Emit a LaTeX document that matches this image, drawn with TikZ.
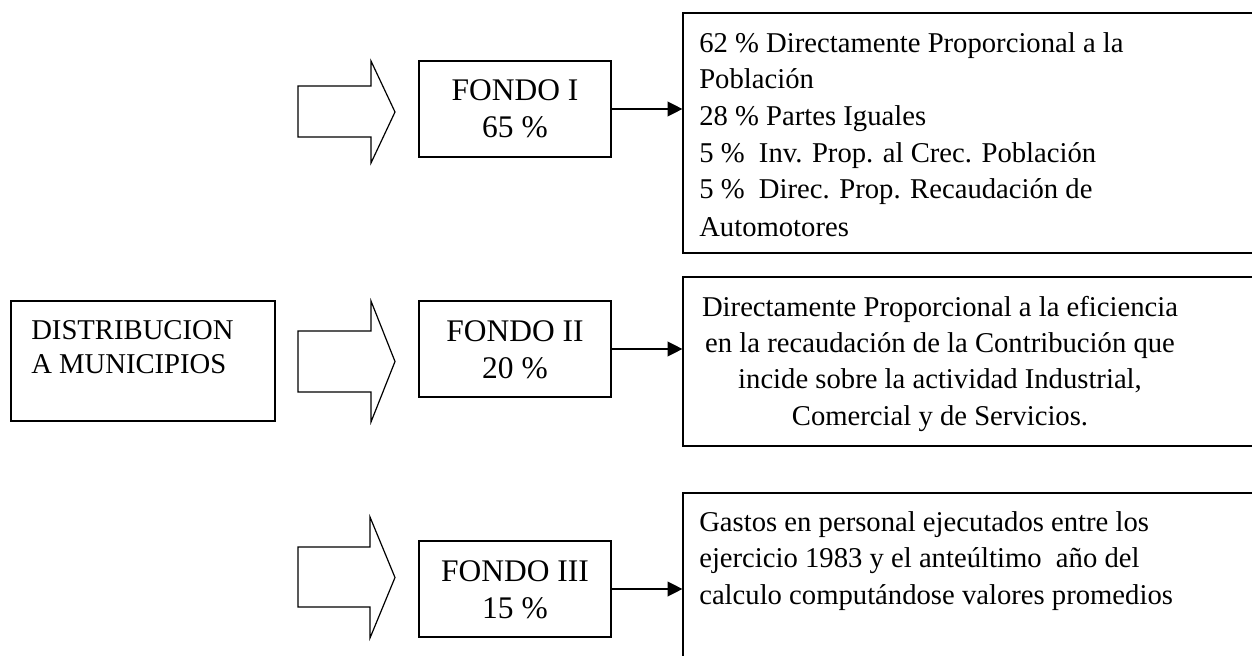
\documentclass[tikz,border=0pt]{standalone}
\usepackage{fontspec}
\setmainfont{Liberation Serif}
\usetikzlibrary{arrows.meta}
\begin{document}
\begin{tikzpicture}[x=0.75pt,y=-0.75pt,
  box/.style={draw,line width=0.9pt,inner sep=0pt},
  blk/.style={draw,line width=0.9pt,line join=miter},
  link/.style={line width=1pt,-{Triangle[length=11pt,width=11pt]}},
  rtxt/.style={inner sep=0pt,font=\fontsize{21.5}{26}\selectfont},
  ftxt/.style={inner sep=0pt,font=\fontsize{23.6}{28}\selectfont}]
\useasboundingbox (0,0) rectangle (1252,656);
\clip (0,0) rectangle (1252,656);

% boxes
\node[box,minimum width=198pt,minimum height=90pt] (dist) at (143,361) {};
\node[box,minimum width=144pt,minimum height=72pt] (f1) at (515,109) {};
\node[box,minimum width=144pt,minimum height=72pt] (f2) at (515,349) {};
\node[box,minimum width=144pt,minimum height=72pt] (f3) at (515,589) {};
\node[box,minimum width=462.75pt,minimum height=180pt] (r1) at (991.5,133) {};
\node[box,minimum width=462.75pt,minimum height=126.75pt] (r2) at (991.5,361.5) {};
\node[box,minimum width=462.75pt,minimum height=170.25pt] (r3) at (991.5,606.5) {};

% block arrows
\draw[blk] (298,86) -- (371,86) -- (371,61) -- (395,112) -- (371,163) -- (371,137) -- (298,137) -- cycle;
\draw[blk] (298,331) -- (371,331) -- (371,301) -- (395,361.5) -- (371,422) -- (371,392) -- (298,392) -- cycle;
\draw[blk] (298,547) -- (370,547) -- (370,517) -- (395,577.5) -- (370,638) -- (370,607) -- (298,607) -- cycle;

% connectors
\draw[link] (f1.east) -- (f1.east -| r1.west);
\draw[link] (f2.east) -- (f2.east -| r2.west);
\draw[link] (f3.east) -- (f3.east -| r3.west);

% texts
\node[rtxt,anchor=base west] (d1) at (31,339) {DISTRIBUCION};
\node[rtxt,anchor=base west] (d2) at (31,373) {A MUNICIPIOS};

\node[ftxt,anchor=base] (f1a) at (515,101) {FONDO I};
\node[ftxt,anchor=base] (f1b) at (515,138) {65 \%};
\node[ftxt,anchor=base] (f2a) at (515,341) {FONDO II};
\node[ftxt,anchor=base] (f2b) at (515,378) {20 \%};
\node[ftxt,anchor=base] (f3a) at (515,581) {FONDO III};
\node[ftxt,anchor=base] (f3b) at (515,618) {15 \%};

\node[rtxt,anchor=base west] (r1a) at (699,53) {62 \% Directamente Proporcional a la};
\node[rtxt,anchor=base west] (r1b) at (699,89) {Población};
\node[rtxt,anchor=base west] (r1c) at (699,126) {28 \% Partes Iguales};
\node[rtxt,anchor=base west] (r1d) at (699,163) {5 \%\ \ Inv. Prop. al Crec. Población};
\node[rtxt,anchor=base west] (r1e) at (699,199) {5 \%\ \ Direc. Prop. Recaudación de};
\node[rtxt,anchor=base west] (r1f) at (699,236) {Automotores};

\node[rtxt,anchor=base] (r2a) at (940,316) {Directamente Proporcional a la eficiencia};
\node[rtxt,anchor=base] (r2b) at (940,352) {en la recaudación de la Contribución que};
\node[rtxt,anchor=base] (r2c) at (940,388) {incide sobre la actividad Industrial,};
\node[rtxt,anchor=base] (r2d) at (940,425) {Comercial y de Servicios.};

\node[rtxt,anchor=base west] (r3a) at (699,531) {Gastos en personal ejecutados entre los};
\node[rtxt,anchor=base west] (r3b) at (699,567) {ejercicio 1983 y el anteúltimo\ \ año del};
\node[rtxt,anchor=base west] (r3c) at (699,604) {calculo computándose valores promedios};
\end{tikzpicture}
\end{document}
